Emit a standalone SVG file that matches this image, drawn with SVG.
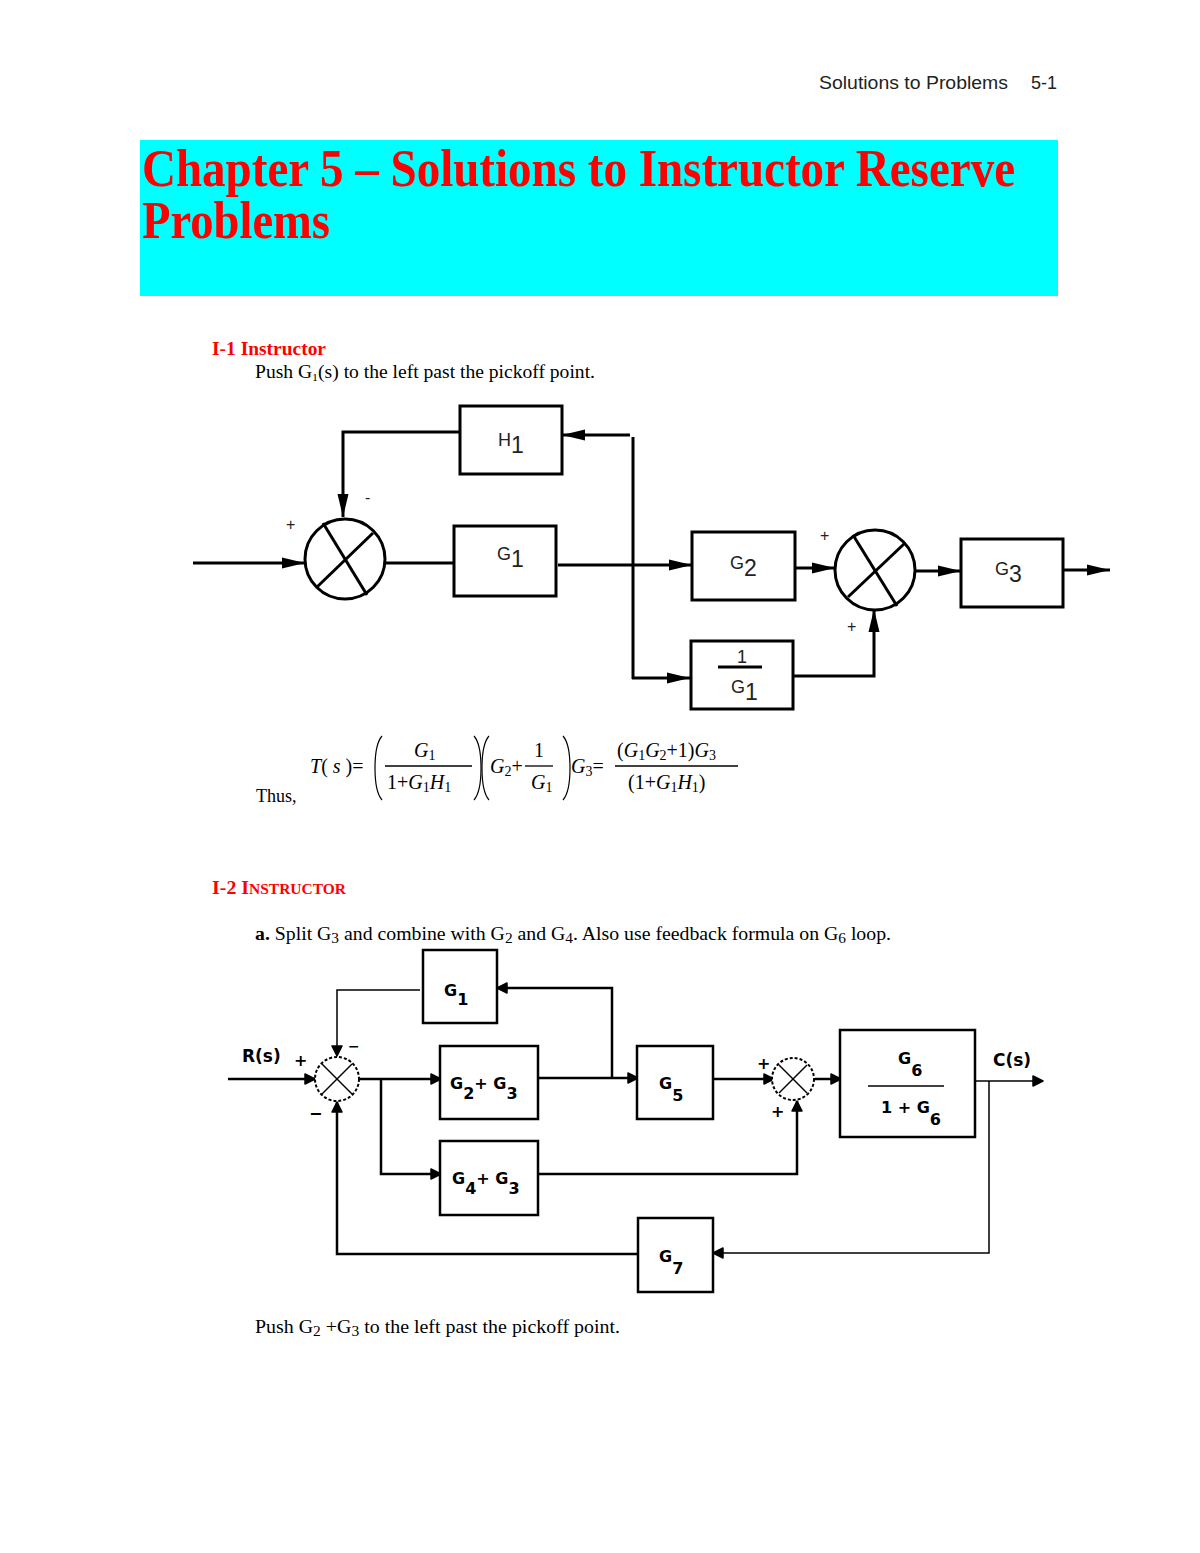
<svg xmlns="http://www.w3.org/2000/svg" width="1200" height="1553" viewBox="0 0 1200 1553">
<style>
.serif{font-family:"Liberation Serif","Times New Roman",serif;fill:#000}
.sans{font-family:"Liberation Sans",Arial,sans-serif;fill:#222}
.red{fill:#ff0000;font-family:"Liberation Serif","Times New Roman",serif;font-weight:bold}
.b1{fill:#fff;stroke:#000;stroke-width:3}
.l1{fill:none;stroke:#000;stroke-width:3}
.b2{fill:#fff;stroke:#000;stroke-width:2.5}
.l2{fill:none;stroke:#000;stroke-width:2.5}
.t2{fill:none;stroke:#000;stroke-width:1.5}
.d2{font-family:"DejaVu Sans",Verdana,sans-serif;font-weight:bold;fill:#000}
.eq{font-family:"Liberation Serif","Times New Roman",serif;font-style:italic;font-size:20px;fill:#000}
.up{font-style:normal}
.sb{font-style:normal;font-size:14px}
.par{fill:none;stroke:#000;stroke-width:1.2}
</style>
<defs>
<marker id="a1" markerUnits="userSpaceOnUse" markerWidth="24" markerHeight="12" refX="23" refY="6" orient="auto">
<path d="M0,0.5 L23,6 L0,11.5 z" fill="#000"/>
</marker>
<marker id="a2" markerUnits="userSpaceOnUse" markerWidth="12" markerHeight="12" refX="11" refY="6" orient="auto">
<path d="M1,1 L11,6 L1,11 z" fill="#000" stroke="#000" stroke-width="1.5" stroke-linejoin="round"/>
</marker>
</defs>
<rect width="1200" height="1553" fill="#fff"/>

<!-- header -->
<text class="sans" x="819" y="89" font-size="18" textLength="189" lengthAdjust="spacingAndGlyphs">Solutions to Problems</text>
<text class="sans" x="1031" y="89" font-size="18">5-1</text>
<rect x="140" y="140" width="918" height="156" fill="#00ffff"/>
<text class="red" x="142" y="186" font-size="52" textLength="873" lengthAdjust="spacingAndGlyphs">Chapter 5 – Solutions to Instructor Reserve</text>
<text class="red" x="142" y="238" font-size="52" textLength="188" lengthAdjust="spacingAndGlyphs">Problems</text>

<!-- I-1 -->
<text class="red" x="212" y="355" font-size="19" textLength="114" lengthAdjust="spacingAndGlyphs">I-1 Instructor</text>
<text class="serif" x="255" y="378" font-size="18" textLength="340" lengthAdjust="spacingAndGlyphs">Push G<tspan font-size="11" dy="3">1</tspan><tspan dy="-3">(s) to the left past the pickoff point.</tspan></text>

<g id="conn1">
<polyline class="l1" points="460,432 343,432 343,517" marker-end="url(#a1)"/>
<line class="l1" x1="193" y1="563" x2="305" y2="563" marker-end="url(#a1)"/>
<line class="l1" x1="385" y1="563" x2="454" y2="563"/>
<line class="l1" x1="558" y1="565" x2="692" y2="565" marker-end="url(#a1)"/>
<line class="l1" x1="633" y1="437" x2="633" y2="679"/>
<line class="l1" x1="630" y1="435" x2="562" y2="435" marker-end="url(#a1)"/>
<line class="l1" x1="632" y1="678" x2="690" y2="678" marker-end="url(#a1)"/>
<line class="l1" x1="795" y1="568" x2="835" y2="568" marker-end="url(#a1)"/>
<polyline class="l1" points="793,676 874,676 874,609" marker-end="url(#a1)"/>
<line class="l1" x1="915" y1="571" x2="961" y2="571" marker-end="url(#a1)"/>
<line class="l1" x1="1063" y1="570" x2="1110" y2="570" marker-end="url(#a1)"/>
</g>

<g id="H1">
<rect class="b1" x="460" y="406" width="102" height="68"/>
<text class="sans" x="498" y="446" font-size="18">H<tspan font-size="23" dy="7">1</tspan></text>
</g>
<g id="sum1">
<circle class="b1" cx="345" cy="559" r="40"/>
<line class="l1" x1="323" y1="523" x2="367" y2="595"/>
<line class="l1" x1="373" y1="533" x2="317" y2="587"/>
<text class="sans" x="286" y="530" font-size="16">+</text>
<text class="sans" x="365" y="503" font-size="16">-</text>
</g>
<g id="G1a">
<rect class="b1" x="454" y="526" width="102" height="70"/>
<text class="sans" x="497" y="560" font-size="18">G<tspan font-size="23" dy="7">1</tspan></text>
</g>
<g id="G2a">
<rect class="b1" x="692" y="532" width="103" height="68"/>
<text class="sans" x="730" y="569" font-size="18">G<tspan font-size="23" dy="7">2</tspan></text>
</g>
<g id="sum2">
<circle class="b1" cx="875" cy="570" r="40"/>
<line class="l1" x1="853" y1="535" x2="897" y2="606"/>
<line class="l1" x1="905" y1="543" x2="848" y2="597"/>
<text class="sans" x="820" y="541" font-size="16">+</text>
<text class="sans" x="847" y="632" font-size="16">+</text>
</g>
<g id="invG1">
<rect class="b1" x="691" y="641" width="102" height="68"/>
<text class="sans" x="737" y="663" font-size="18">1</text>
<line x1="718" y1="667" x2="762" y2="667" stroke="#000" stroke-width="3"/>
<text class="sans" x="731" y="693" font-size="18">G<tspan font-size="23" dy="7">1</tspan></text>
</g>
<g id="G3a">
<rect class="b1" x="961" y="539" width="102" height="68"/>
<text class="sans" x="995" y="575" font-size="18">G<tspan font-size="23" dy="7">3</tspan></text>
</g>

<!-- equation -->
<g id="equation">
<text class="serif" x="256" y="802" font-size="18">Thus,</text>
<text class="eq" x="310" y="773">T<tspan class="up">(</tspan> s <tspan class="up">)=</tspan></text>
<path class="par" d="M382,736 Q375,744 375,768 Q375,792 382,800"/>
<text class="eq" x="414" y="757">G<tspan class="sb" dy="3">1</tspan></text>
<line x1="385" y1="766" x2="472" y2="766" stroke="#000" stroke-width="1.3"/>
<text class="eq" x="387" y="789"><tspan class="up">1+</tspan>G<tspan class="sb" dy="3">1</tspan><tspan dy="-3">H</tspan><tspan class="sb" dy="3">1</tspan></text>
<path class="par" d="M474,736 Q481,744 481,768 Q481,792 474,800"/>
<path class="par" d="M489,736 Q482,744 482,768 Q482,792 489,800"/>
<text class="eq" x="490" y="773">G<tspan class="sb" dy="3">2</tspan><tspan class="up" dy="-3">+</tspan></text>
<text class="eq" x="534" y="757"><tspan class="up">1</tspan></text>
<line x1="525" y1="766" x2="553" y2="766" stroke="#000" stroke-width="1.3"/>
<text class="eq" x="531" y="789">G<tspan class="sb" dy="3">1</tspan></text>
<path class="par" d="M563,736 Q570,744 570,768 Q570,792 563,800"/>
<text class="eq" x="571" y="773">G<tspan class="sb" dy="3">3</tspan><tspan class="up" dy="-3">=</tspan></text>
<text class="eq" x="617" y="757"><tspan class="up">(</tspan>G<tspan class="sb" dy="3">1</tspan><tspan dy="-3">G</tspan><tspan class="sb" dy="3">2</tspan><tspan class="up" dy="-3">+1)</tspan>G<tspan class="sb" dy="3">3</tspan></text>
<line x1="615" y1="766" x2="738" y2="766" stroke="#000" stroke-width="1.3"/>
<text class="eq" x="628" y="789"><tspan class="up">(1+</tspan>G<tspan class="sb" dy="3">1</tspan><tspan dy="-3">H</tspan><tspan class="sb" dy="3">1</tspan><tspan class="up" dy="-3">)</tspan></text>
</g>

<!-- I-2 -->
<text class="red" x="212" y="894" font-size="18" textLength="134" lengthAdjust="spacingAndGlyphs">I-2 I<tspan font-size="14">NSTRUCTOR</tspan></text>
<text class="serif" x="255" y="940" font-size="18" textLength="636" lengthAdjust="spacingAndGlyphs"><tspan font-weight="bold">a.</tspan> Split G<tspan font-size="14" dy="3">3</tspan><tspan dy="-3"> and combine with G</tspan><tspan font-size="14" dy="3">2</tspan><tspan dy="-3"> and G</tspan><tspan font-size="14" dy="3">4</tspan><tspan dy="-3">. Also use feedback formula on G</tspan><tspan font-size="14" dy="3">6</tspan><tspan dy="-3"> loop.</tspan></text>

<g id="conn2">
<polyline class="t2" points="420,990 337,990 337,1056" marker-end="url(#a2)"/>
<polyline class="l2" points="612,1078 612,988 497,988" marker-end="url(#a2)"/>
<line class="l2" x1="228" y1="1079" x2="315" y2="1079" marker-end="url(#a2)"/>
<line class="l2" x1="359" y1="1079" x2="441" y2="1079" marker-end="url(#a2)"/>
<polyline class="l2" points="381,1079 381,1174 441,1174" marker-end="url(#a2)"/>
<line class="l2" x1="538" y1="1078" x2="638" y2="1078" marker-end="url(#a2)"/>
<line class="l2" x1="713" y1="1079" x2="774" y2="1079" marker-end="url(#a2)"/>
<polyline class="l2" points="538,1174 797,1174 797,1101" marker-end="url(#a2)"/>
<line class="l2" x1="815" y1="1079" x2="841" y2="1079" marker-end="url(#a2)"/>
<line class="t2" x1="975" y1="1081" x2="1043" y2="1081" marker-end="url(#a2)"/>
<polyline class="t2" points="989,1081 989,1253 713,1253" marker-end="url(#a2)"/>
<polyline class="l2" points="638,1254 337,1254 337,1102" marker-end="url(#a2)"/>
</g>

<g id="G1b">
<rect class="b2" x="423" y="950" width="74" height="73"/>
<text class="d2" x="444" y="996" font-size="16">G<tspan dy="9">1</tspan></text>
</g>
<g id="sumA">
<circle cx="337" cy="1079" r="22" fill="#fff" stroke="#000" stroke-width="2" stroke-dasharray="3 2"/>
<line class="t2" x1="322" y1="1064" x2="352" y2="1094" stroke-width="1"/>
<line class="t2" x1="352" y1="1064" x2="322" y2="1094" stroke-width="1"/>
<text class="d2" x="242" y="1062" font-size="17">R(s)</text>
<text class="d2" x="294" y="1066" font-size="16">+</text>
<text class="d2" x="348" y="1051" font-size="14">−</text>
<text class="d2" x="309" y="1119" font-size="16">−</text>
</g>
<g id="G23">
<rect class="b2" x="440" y="1046" width="98" height="73"/>
<text class="d2" x="450" y="1089" font-size="16">G<tspan dy="10">2</tspan><tspan dy="-10">+ G</tspan><tspan dy="10">3</tspan></text>
</g>
<g id="G5">
<rect class="b2" x="637" y="1046" width="76" height="73"/>
<text class="d2" x="659" y="1089" font-size="16">G<tspan dy="12">5</tspan></text>
</g>
<g id="sumB">
<circle cx="793" cy="1079" r="21" fill="#fff" stroke="#000" stroke-width="2" stroke-dasharray="3 2"/>
<line class="t2" x1="779" y1="1065" x2="807" y2="1093" stroke-width="1"/>
<line class="t2" x1="807" y1="1065" x2="779" y2="1093" stroke-width="1"/>
<text class="d2" x="757" y="1069" font-size="16">+</text>
<text class="d2" x="771" y="1117" font-size="16">+</text>
</g>
<g id="G44">
<rect class="b2" x="440" y="1141" width="98" height="74"/>
<text class="d2" x="452" y="1184" font-size="16">G<tspan dy="10">4</tspan><tspan dy="-10">+ G</tspan><tspan dy="10">3</tspan></text>
</g>
<g id="G6">
<rect class="b2" x="840" y="1030" width="135" height="107"/>
<text class="d2" x="898" y="1064" font-size="16">G<tspan dy="12">6</tspan></text>
<line x1="868" y1="1086" x2="944" y2="1086" stroke="#000" stroke-width="1.5"/>
<text class="d2" x="881" y="1113" font-size="16">1 + G<tspan dy="12">6</tspan></text>
<text class="d2" x="993" y="1066" font-size="17">C(s)</text>
</g>
<g id="G7">
<rect class="b2" x="638" y="1218" width="75" height="74"/>
<text class="d2" x="659" y="1262" font-size="16">G<tspan dy="12">7</tspan></text>
</g>

<text class="serif" x="255" y="1333" font-size="18" textLength="365" lengthAdjust="spacingAndGlyphs">Push G<tspan font-size="14" dy="3">2</tspan><tspan dy="-3"> +G</tspan><tspan font-size="14" dy="3">3</tspan><tspan dy="-3">  to the left past the pickoff point.</tspan></text>
</svg>
